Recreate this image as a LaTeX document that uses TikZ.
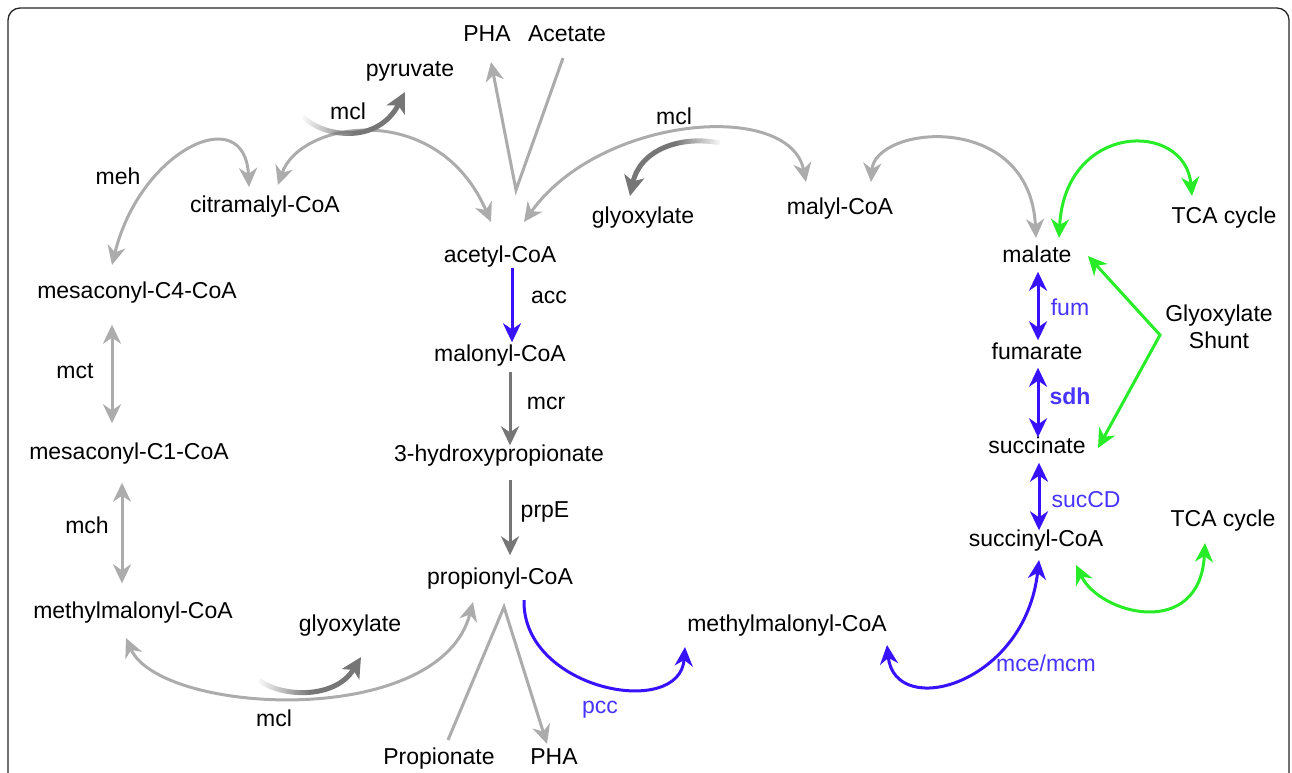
\documentclass[tikz,border=0pt]{standalone}
\usepackage{fontspec}
\setmainfont{Liberation Sans}
\usetikzlibrary{arrows.meta, fadings}
\definecolor{pathgray}{RGB}{172,172,172}
\definecolor{darkpath}{RGB}{118,118,118}
\definecolor{pathblue}{RGB}{56,18,255}
\definecolor{labelblue}{RGB}{72,52,255}
\definecolor{pathgreen}{RGB}{40,236,40}
\tikzfading[name=fade tail, left color=transparent!100, right color=transparent!0, middle color=transparent!0]
\tikzset{
  compound/.style={
    inner sep=0pt,
    text height=16pt,
    text depth=5pt,
    font=\fontsize{23}{27}\selectfont,
  },
  enzyme/.style={compound},
  blue enzyme/.style={compound, text=labelblue},
  light arrow/.style={draw=pathgray, line width=3pt},
  dark arrow/.style={draw=darkpath, line width=3pt},
  side arrow/.style={draw=darkpath, line width=5pt, -{Stealth[length=20pt,width=20pt,inset=5pt]}},
  blue arrow/.style={draw=pathblue, line width=3pt},
  green arrow/.style={draw=pathgreen, line width=3pt},
  frame/.style={draw=black!85, line width=1.3pt, rounded corners=12pt},
}

\begin{document}
\begin{tikzpicture}[x=1pt, y=-1pt, >={Stealth[length=19pt,width=18pt,inset=6pt]}]
      \useasboundingbox (0,0) rectangle (1292,772);
      \draw[frame] (8,800) -- (8,8) -- (1289,8) -- (1289,800);

      \node[compound] (phaT)       at (487,36)  {PHA};
      \node[compound] (acetate)    at (567,36)  {Acetate};
      \node[compound] (pyruvate)   at (410,71)  {pyruvate};
      \node[enzyme]   (mclA)       at (348,114) {mcl};
      \node[enzyme]   (meh)        at (118,179) {meh};
      \node[compound] (citramalyl) at (265,207) {citramalyl-CoA};
      \node[compound] (acetyl)     at (500,257) {acetyl-CoA};
      \node[compound] (glyoxT)     at (643,218) {glyoxylate};
      \node[enzyme]   (mclB)       at (674,119) {mcl};
      \node[compound] (malyl)      at (840,209) {malyl-CoA};
      \node[compound] (malate)     at (1037,257) {malate};
      \node[compound] (tcaT)       at (1224,218) {TCA cycle};
      \node[compound] (mesC4)      at (137,293) {mesaconyl-C4-CoA};
      \node[enzyme]   (acc)        at (549,298) {acc};
      \node[blue enzyme] (fum)     at (1070,310) {fum};
      \node[font=\fontsize{23}{27}\selectfont, align=center, inner sep=0pt] (shunt) at (1219,327) {Glyoxylate\\Shunt};
      \node[enzyme]   (mct)        at (75,373)  {mct};
      \node[compound] (malonyl)    at (500,356) {malonyl-CoA};
      \node[compound] (fumarate)   at (1037,354) {fumarate};
      \node[enzyme]   (mcr)        at (546,404) {mcr};
      \node[blue enzyme, font=\fontsize{23}{27}\selectfont\bfseries] (sdh) at (1070,399) {sdh};
      \node[compound] (mesC1)      at (129,454) {mesaconyl-C1-CoA};
      \node[compound] (hydroxy)    at (499,456) {3-hydroxypropionate};
      \node[compound] (succinate)  at (1037,448) {succinate};
      \node[enzyme]   (mch)        at (87,528)  {mch};
      \node[enzyme]   (prpE)       at (545,512) {prpE};
      \node[blue enzyme] (sucCD)   at (1086,502) {sucCD};
      \node[compound] (tcaB)       at (1223,521) {TCA cycle};
      \node[compound] (succinyl)   at (1036,541) {succinyl-CoA};
      \node[compound] (propionyl)  at (500,579) {propionyl-CoA};
      \node[compound] (mmcoaL)     at (133,613) {methylmalonyl-CoA};
      \node[compound] (glyoxB)     at (350,626) {glyoxylate};
      \node[compound] (mmcoaR)     at (787,626) {methylmalonyl-CoA};
      \node[blue enzyme] (mcemcm)  at (1046,666) {mce/mcm};
      \node[blue enzyme] (pcc)     at (600,708) {pcc};
      \node[enzyme]   (mclC)       at (274,721) {mcl};
      \node[compound] (propionate) at (439,759) {Propionate};
      \node[compound] (phaB)       at (554,759) {PHA};

      \coordinate (mehA)   at (112,265);
      \coordinate (mehB)   at (249,187);
      \coordinate (citA)   at (278,185);
      \coordinate (acetA)  at (491,222);
      \coordinate (pyrA)   at (303,117);
      \coordinate (pyrB)   at (405,92);
      \coordinate (phaTip) at (491,62);
      \coordinate (aceEnd) at (563,58);
      \coordinate (vTop)   at (516,190);
      \coordinate (acetB)  at (524,222);
      \coordinate (malylA) at (806,182);
      \coordinate (glxA)   at (720,143);
      \coordinate (glxB)   at (630,196);
      \coordinate (malylB) at (871,182);
      \coordinate (malA)   at (1036,238);
      \coordinate (malB)   at (1059,238);
      \coordinate (tcaTip) at (1192,196);
      \coordinate (shTop)  at (1088,256);
      \coordinate (shV)    at (1160,335);
      \coordinate (shBot)  at (1098,448);
      \coordinate (sucA)   at (1076,565);
      \coordinate (tcaBtip) at (1205,543);
      \coordinate (mmRtip) at (887,645);
      \coordinate (sucB)   at (1039,560);
      \coordinate (pccA)   at (524,600);
      \coordinate (pccB)   at (685,647);
      \coordinate (mmLtip) at (126,638);
      \coordinate (propTip) at (473,602);
      \coordinate (glbA)   at (259,680);
      \coordinate (glbB)   at (361,657);
      \coordinate (prStart) at (448,740);
      \coordinate (vBot)   at (504,607);
      \coordinate (phaBtip) at (547,744);

      \draw[light arrow, <->] (mehA) .. controls (140,150) and (245,100) .. (mehB);
      \draw[light arrow, <->] (citA) .. controls (300,120) and (438,99) .. (acetA);
      \draw[side arrow, path fading=fade tail] (pyrA) .. controls (325,138) and (378,144) .. (pyrB);
      \draw[light arrow, ->] (aceEnd) -- (vTop) -- (phaTip);
      \draw[light arrow, <->] (acetB) .. controls (600,115) and (790,100) .. (malylA);
      \draw[side arrow, path fading=fade tail, fading angle=180] (glxA) .. controls (680,135) and (640,150) .. (glxB);
      \draw[light arrow, <->] (malylB) .. controls (875,125) and (1030,110) .. (malA);
      \draw[green arrow, <->] (malB) .. controls (1065,122) and (1185,120) .. (tcaTip);
      \draw[green arrow, <->] (shTop) -- (shV) -- (shBot);

      \draw[blue arrow, ->, shorten >=3pt] ([xshift=12pt]acetyl.south) -- ([xshift=12pt]malonyl.north);
      \draw[dark arrow, ->, shorten <=5pt] ([xshift=10pt]malonyl.south) -- ([xshift=11pt]hydroxy.north);
      \draw[dark arrow, ->, shorten <=13pt, shorten >=13pt] ([xshift=11pt]hydroxy.south) -- ([xshift=10pt]propionyl.north);

      \draw[light arrow, <->, shorten <=21pt, shorten >=20pt] ([xshift=-25pt]mesC4.south) -- ([xshift=-17pt]mesC1.north);
      \draw[light arrow, <->, shorten <=18pt, shorten >=19pt] ([xshift=-7pt]mesC1.south) -- ([xshift=-11pt]mmcoaL.north);

      \draw[blue arrow, <->, shorten <=4pt, shorten >=3pt] ([xshift=1pt]malate.south) -- ([xshift=1pt]fumarate.north);
      \draw[blue arrow, <->, shorten <=3pt] ([xshift=1pt]fumarate.south) -- ([xshift=1pt]succinate.north);
      \draw[blue arrow, <->, shorten <=4pt] ([xshift=2pt]succinate.south) -- ([xshift=3pt]succinyl.north);

      \draw[green arrow, <->] (sucA) .. controls (1100,615) and (1200,640) .. (tcaBtip);
      \draw[blue arrow, <->] (mmRtip) .. controls (895,720) and (1025,685) .. (sucB);
      \draw[blue arrow, ->] (pccA) .. controls (522,690) and (680,720) .. (pccB);
      \draw[light arrow, <->] (mmLtip) .. controls (160,715) and (440,730) .. (propTip);
      \draw[side arrow, path fading=fade tail] (glbA) .. controls (280,697) and (335,700) .. (glbB);
      \draw[light arrow, ->] (prStart) -- (vBot) -- (phaBtip);
\end{tikzpicture}
\end{document}
